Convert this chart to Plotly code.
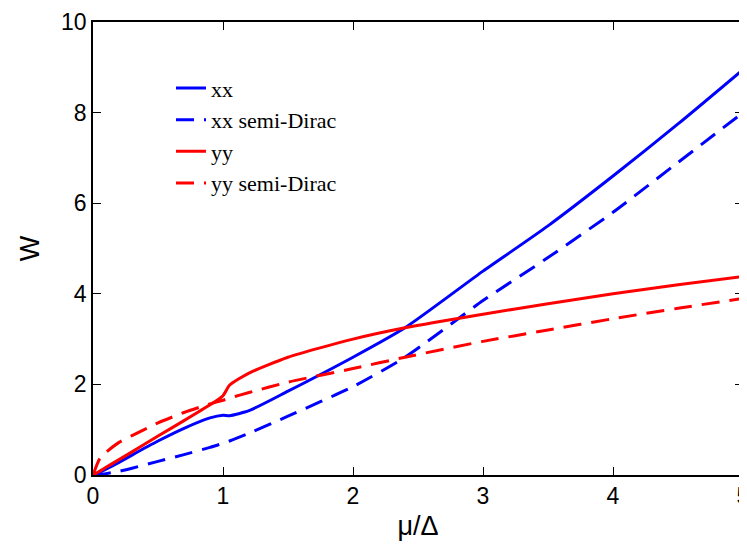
import plotly.graph_objects as go

# values
mu = [0, 0.05, 0.1, 0.2, 0.3, 0.5, 0.7, 0.9, 1.0, 1.05, 1.2, 1.5, 2.0, 2.4, 3.0, 3.5, 4.0, 4.5, 5.0]
xx = [0, 0.06, 0.13, 0.28, 0.44, 0.75, 1.03, 1.26, 1.32, 1.31, 1.42, 1.85, 2.6, 3.25, 4.5, 5.5, 6.6, 7.75, 8.95]
xx_sd = [0, 0.01, 0.03, 0.08, 0.15, 0.3, 0.45, 0.61, 0.7, 0.75, 0.92, 1.3, 1.95, 2.6, 3.85, 4.8, 5.8, 6.9, 8.0]
yy = [0, 0.08, 0.17, 0.34, 0.51, 0.86, 1.2, 1.55, 1.75, 1.98, 2.25, 2.6, 3.0, 3.25, 3.55, 3.78, 4.0, 4.2, 4.38]
yy_sd = [0, 0.35, 0.5, 0.72, 0.87, 1.15, 1.38, 1.57, 1.65, 1.7, 1.82, 2.05, 2.35, 2.6, 2.95, 3.2, 3.45, 3.68, 3.9]

series = [
    ("xx", xx, "#0000ff", "solid"),
    ("xx semi-Dirac", xx_sd, "#0000ff", "18px,10px"),
    ("yy", yy, "#ff0000", "solid"),
    ("yy semi-Dirac", yy_sd, "#ff0000", "18px,10px"),
]

fig = go.Figure()
for name, ys, color, dash in series:
    fig.add_trace(go.Scatter(x=mu, y=ys, mode="lines", name=name,
                             line=dict(color=color, width=3, dash=dash, shape="spline", smoothing=0.6)))

axis = dict(showgrid=False, zeroline=False, showline=True, linecolor="black", linewidth=1.5,
            mirror="ticks", ticks="inside", ticklen=8, tickcolor="black", automargin=False,
            tickfont=dict(family="Liberation Sans", size=23, color="black"))
fig.update_layout(
    width=747, height=557, plot_bgcolor="white", paper_bgcolor="white",
    margin=dict(l=85, r=12, t=14, b=90),
    xaxis=dict(axis, range=[0, 5], dtick=1,
               title=dict(text="μ/Δ", font=dict(family="Liberation Sans", size=27, color="black"), standoff=8)),
    yaxis=dict(axis, range=[0, 10], dtick=2,
               title=dict(text="W", font=dict(family="Liberation Sans", size=27, color="black"), standoff=14)),
    legend=dict(x=0.12, y=0.9, xanchor="left", yanchor="top", bgcolor="rgba(0,0,0,0)",
                font=dict(family="Liberation Serif", size=22, color="black"), tracegroupgap=0),
)
fig.write_html("out.html")
